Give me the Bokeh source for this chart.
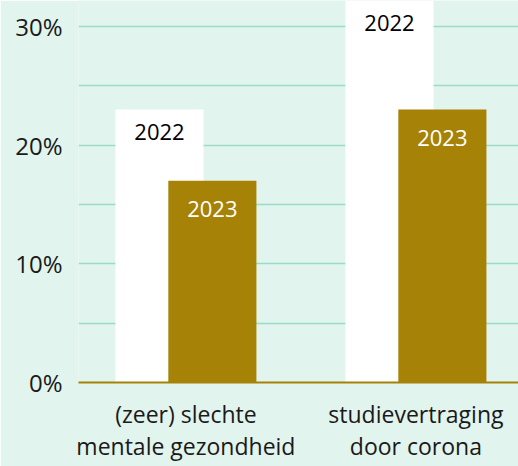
from bokeh.plotting import figure
from bokeh.models import Range1d, FixedTicker, ColumnDataSource
from bokeh.core.properties import value
from bokeh.embed import file_html
from bokeh.resources import INLINE

categories = ["(zeer) slechte\nmentale gezondheid", "studievertraging\ndoor corona"]
years = ["2022", "2023"]
values_2022 = [23, 33]
values_2023 = [17, 23]
y_ticks = [0, 10, 20, 30]
grid_ticks = [5, 10, 15, 20, 25, 30]

BG = "#e2f4ee"
GRID = "#9bdcc6"
GOLD = "#a68207"
FONT = "Open Sans"

YMAX = 32.19
p = figure(width=518, height=466, output_backend="svg", toolbar_location=None,
           x_range=Range1d(-0.467, 1.446), y_range=Range1d(0, YMAX),
           min_border_left=78, min_border_right=0, min_border_top=0, min_border_bottom=84)
p.background_fill_color = BG
p.border_fill_color = BG
p.outline_line_color = None

xs = list(range(len(categories)))
off = 0.115
w = 0.383
src22 = ColumnDataSource(dict(x=[i - off for i in xs], top=values_2022,
                              ly=[min(v, YMAX) for v in values_2022], lab=[years[0]] * len(xs)))
src23 = ColumnDataSource(dict(x=[i + off for i in xs], top=values_2023,
                              ly=values_2023, lab=[years[1]] * len(xs)))

p.vbar(x="x", top="top", width=w, bottom=0, source=src22, fill_color="white", line_color=None)
p.vbar(x="x", top="top", width=w, bottom=0, source=src23, fill_color=GOLD, line_color=None)

p.text(x="x", y="ly", text="lab", source=src22, text_align="center", text_baseline="middle",
       y_offset=22, text_font=value(FONT), text_font_size="22px", text_color="black")
p.text(x="x", y="ly", text="lab", source=src23, text_align="center", text_baseline="middle",
       y_offset=28, text_font=value(FONT), text_font_size="22px", text_color="white")

p.xgrid.grid_line_color = None
p.ygrid.ticker = FixedTicker(ticks=grid_ticks)
p.ygrid.grid_line_color = GRID
p.ygrid.grid_line_width = 1.5

p.yaxis.ticker = FixedTicker(ticks=y_ticks)
p.yaxis.major_label_overrides = {t: f"{t}%" for t in y_ticks}
p.yaxis.axis_line_color = None
p.yaxis.major_tick_line_color = None
p.yaxis.minor_tick_line_color = None
p.yaxis.major_label_standoff = 10
p.yaxis.major_label_text_font = FONT
p.yaxis.major_label_text_font_size = "24px"
p.yaxis.major_label_text_color = "#1a1a1a"

p.xaxis.ticker = FixedTicker(ticks=xs)
p.xaxis.major_label_overrides = {i: c for i, c in enumerate(categories)}
p.xaxis.axis_line_color = GOLD
p.xaxis.axis_line_width = 2
p.xaxis.major_tick_line_color = None
p.xaxis.minor_tick_line_color = None
p.xaxis.major_label_standoff = 9
p.xaxis.major_label_text_font = FONT
p.xaxis.major_label_text_font_size = "23px"
p.xaxis.major_label_text_color = "#1a1a1a"
p.xaxis.major_label_text_line_height = 1.02

open("out.html", "w").write(file_html(p, INLINE))
